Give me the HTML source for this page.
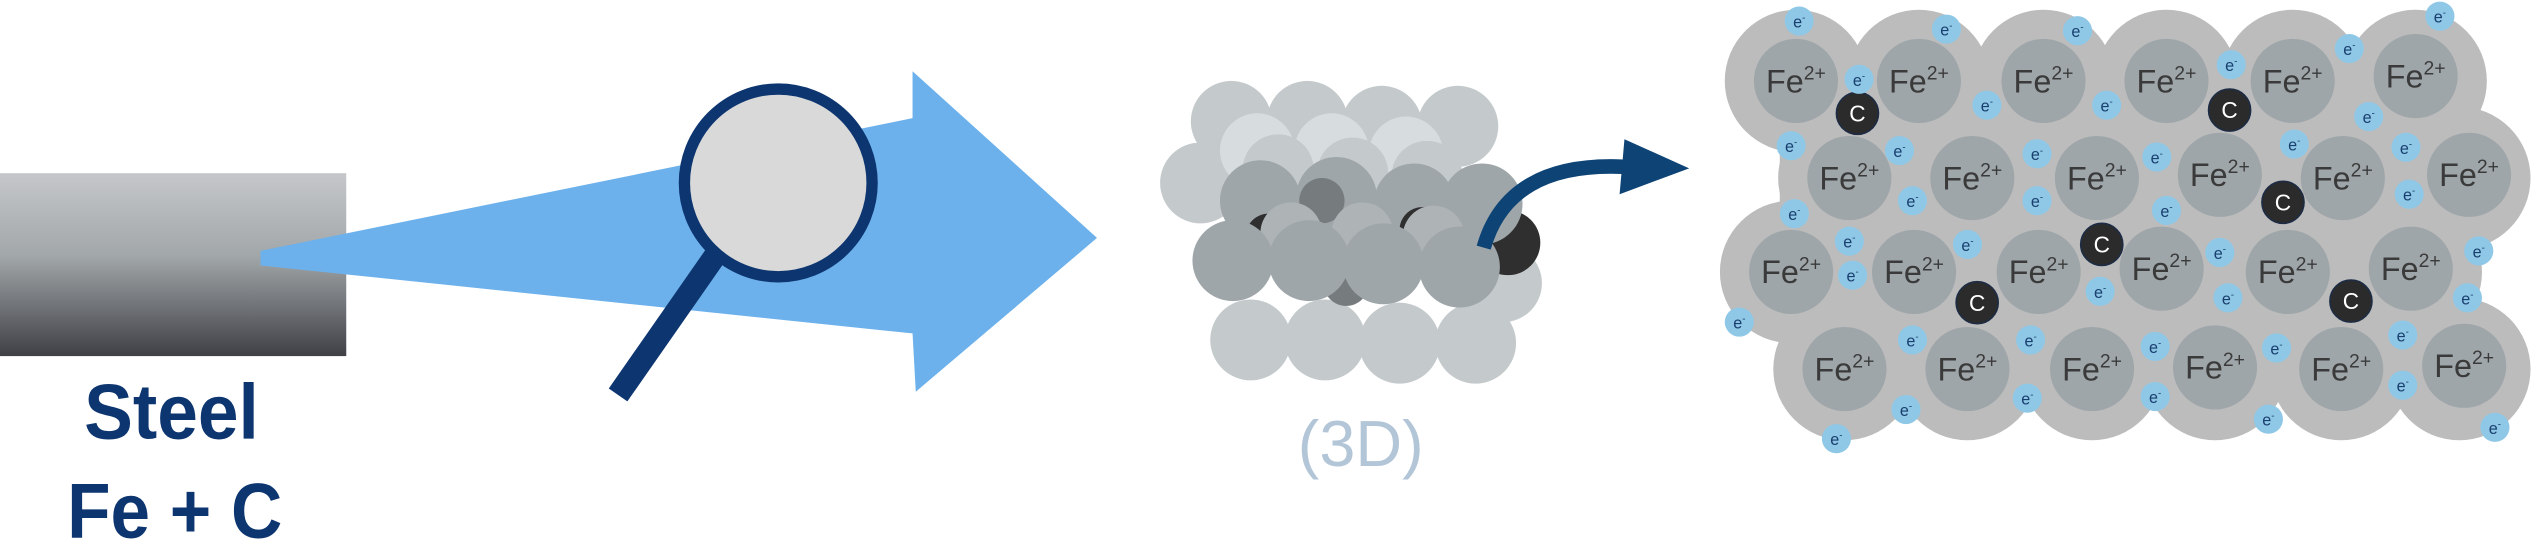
<!DOCTYPE html>
<html><head><meta charset="utf-8"><style>html,body{margin:0;padding:0;background:#fff;overflow:hidden}svg{display:block}</style></head>
<body>
<svg width="2537" height="539" viewBox="0 0 1568 333" preserveAspectRatio="none" xmlns="http://www.w3.org/2000/svg" font-family="Liberation Sans, sans-serif">
<defs>
<linearGradient id="g" x1="0" y1="0" x2="0" y2="1">
<stop offset="0" stop-color="#c5c7ca"/><stop offset="0.45" stop-color="#a2a7a9"/><stop offset="1" stop-color="#3f4046"/>
</linearGradient>
</defs>
<rect x="0" y="107" width="214" height="113" fill="url(#g)"/>
<text x="106" y="271" text-anchor="middle" font-size="48" font-weight="bold" fill="#0d3570" textLength="108" lengthAdjust="spacingAndGlyphs">Steel</text>
<text x="108" y="332" text-anchor="middle" font-size="48" font-weight="bold" fill="#0d3570" textLength="133" lengthAdjust="spacingAndGlyphs">Fe + C</text>
<polygon points="161,155 564,73 564,44 678,147 566,242 564,206 161,164" fill="#6cb1ec"/>
<line x1="442" y1="158" x2="382" y2="244" stroke="#0d3570" stroke-width="14"/>
<circle cx="481" cy="113" r="58" fill="#d9d9d9" stroke="#0d3570" stroke-width="7"/>
<!-- 3D cluster -->
<g fill="#c4c9cb">
<circle cx="773" cy="210" r="25"/><circle cx="819" cy="210" r="25"/><circle cx="865" cy="212" r="25"/><circle cx="912" cy="212" r="25"/><circle cx="929" cy="175" r="24"/>
<circle cx="761" cy="75" r="25"/><circle cx="808" cy="75" r="25"/><circle cx="854" cy="78" r="25"/><circle cx="901" cy="78" r="25"/><circle cx="742" cy="113" r="25"/>
</g>
<g fill="#d7dcdf"><circle cx="777" cy="93" r="23"/><circle cx="823" cy="93" r="23"/><circle cx="869" cy="95" r="23"/></g>
<g fill="#c4c9cb"><circle cx="790" cy="105" r="22"/><circle cx="836" cy="107" r="22"/><circle cx="882" cy="109" r="22"/></g>
<circle cx="932" cy="150" r="20" fill="#2f2f2f"/>
<g fill="#9fa6a9"><circle cx="779" cy="124" r="25"/><circle cx="826" cy="122" r="25"/><circle cx="874" cy="126" r="25"/><circle cx="916" cy="126" r="25"/></g>
<g fill="#767b7e"><circle cx="817" cy="124" r="14"/><circle cx="832" cy="175" r="14"/></g>
<circle cx="784" cy="146" r="14" fill="#2f2f2f"/><circle cx="879" cy="142" r="14" fill="#2f2f2f"/>
<g fill="#aeb3b5"><circle cx="798" cy="144" r="19"/><circle cx="842" cy="144" r="19"/><circle cx="886" cy="146" r="19"/></g>
<g fill="#9fa6a9"><circle cx="762" cy="161" r="25"/><circle cx="809" cy="161" r="25"/><circle cx="855" cy="163" r="25"/><circle cx="902" cy="165" r="25"/></g>
<text x="841" y="288" text-anchor="middle" font-size="40" fill="#b3c6d8">(3D)</text>
<path d="M917,153 Q932,100 1003,103" fill="none" stroke="#0d4375" stroke-width="9"/>
<polygon points="1004,86 1044,104 1001,120" fill="#0d4375"/>
<!-- lattice -->
<g fill="#bcbcbc">
<rect x="1100" y="45" width="420" height="185"/>
<circle cx="1110" cy="50" r="44"/><circle cx="1186" cy="50" r="44"/><circle cx="1263" cy="50" r="44"/><circle cx="1339" cy="50" r="44"/><circle cx="1417" cy="50" r="44"/><circle cx="1493" cy="50" r="44"/>
<circle cx="1143" cy="110" r="44"/><circle cx="1219" cy="110" r="44"/><circle cx="1296" cy="110" r="44"/><circle cx="1372" cy="110" r="44"/><circle cx="1448" cy="110" r="44"/><circle cx="1520" cy="110" r="44"/>
<circle cx="1107" cy="168" r="44"/><circle cx="1183" cy="168" r="44"/><circle cx="1260" cy="168" r="44"/><circle cx="1336" cy="168" r="44"/><circle cx="1414" cy="168" r="44"/><circle cx="1490" cy="168" r="44"/>
<circle cx="1140" cy="228" r="44"/><circle cx="1216" cy="228" r="44"/><circle cx="1293" cy="228" r="44"/><circle cx="1369" cy="228" r="44"/><circle cx="1447" cy="228" r="44"/><circle cx="1520" cy="228" r="44"/>
</g>
<g fill="#9fa6a9">
<circle cx="1110" cy="50" r="26"/><circle cx="1186" cy="50" r="26"/><circle cx="1263" cy="50" r="26"/><circle cx="1339" cy="50" r="26"/><circle cx="1417" cy="50" r="26"/><circle cx="1493" cy="47" r="26"/>
<circle cx="1143" cy="110" r="26"/><circle cx="1219" cy="110" r="26"/><circle cx="1296" cy="110" r="26"/><circle cx="1372" cy="108" r="26"/><circle cx="1448" cy="110" r="26"/><circle cx="1526" cy="108" r="26"/>
<circle cx="1107" cy="168" r="26"/><circle cx="1183" cy="168" r="26"/><circle cx="1260" cy="168" r="26"/><circle cx="1336" cy="166" r="26"/><circle cx="1414" cy="168" r="26"/><circle cx="1490" cy="166" r="26"/>
<circle cx="1140" cy="228" r="26"/><circle cx="1216" cy="228" r="26"/><circle cx="1293" cy="228" r="26"/><circle cx="1369" cy="227" r="26"/><circle cx="1447" cy="228" r="26"/><circle cx="1523" cy="226" r="26"/>
</g>
<g font-size="20" fill="#3a3a3a" text-anchor="middle">
<text x="1110" y="57">Fe<tspan font-size="12" dy="-8">2+</tspan></text><text x="1186" y="57">Fe<tspan font-size="12" dy="-8">2+</tspan></text><text x="1263" y="57">Fe<tspan font-size="12" dy="-8">2+</tspan></text><text x="1339" y="57">Fe<tspan font-size="12" dy="-8">2+</tspan></text><text x="1417" y="57">Fe<tspan font-size="12" dy="-8">2+</tspan></text><text x="1493" y="54">Fe<tspan font-size="12" dy="-8">2+</tspan></text>
<text x="1143" y="117">Fe<tspan font-size="12" dy="-8">2+</tspan></text><text x="1219" y="117">Fe<tspan font-size="12" dy="-8">2+</tspan></text><text x="1296" y="117">Fe<tspan font-size="12" dy="-8">2+</tspan></text><text x="1372" y="115">Fe<tspan font-size="12" dy="-8">2+</tspan></text><text x="1448" y="117">Fe<tspan font-size="12" dy="-8">2+</tspan></text><text x="1526" y="115">Fe<tspan font-size="12" dy="-8">2+</tspan></text>
<text x="1107" y="175">Fe<tspan font-size="12" dy="-8">2+</tspan></text><text x="1183" y="175">Fe<tspan font-size="12" dy="-8">2+</tspan></text><text x="1260" y="175">Fe<tspan font-size="12" dy="-8">2+</tspan></text><text x="1336" y="173">Fe<tspan font-size="12" dy="-8">2+</tspan></text><text x="1414" y="175">Fe<tspan font-size="12" dy="-8">2+</tspan></text><text x="1490" y="173">Fe<tspan font-size="12" dy="-8">2+</tspan></text>
<text x="1140" y="235">Fe<tspan font-size="12" dy="-8">2+</tspan></text><text x="1216" y="235">Fe<tspan font-size="12" dy="-8">2+</tspan></text><text x="1293" y="235">Fe<tspan font-size="12" dy="-8">2+</tspan></text><text x="1369" y="234">Fe<tspan font-size="12" dy="-8">2+</tspan></text><text x="1447" y="235">Fe<tspan font-size="12" dy="-8">2+</tspan></text><text x="1523" y="233">Fe<tspan font-size="12" dy="-8">2+</tspan></text>
</g>
<g fill="#2b2b2b" stroke="#1d2c44" stroke-width="1">
<circle cx="1148" cy="70" r="13"/><circle cx="1378" cy="68" r="13"/><circle cx="1411" cy="125" r="13"/><circle cx="1299" cy="151" r="13"/><circle cx="1222" cy="187" r="13"/><circle cx="1453" cy="186" r="13"/>
</g>
<g fill="#fff" font-size="14" text-anchor="middle">
<text x="1148" y="75">C</text><text x="1378" y="73">C</text><text x="1411" y="130">C</text><text x="1299" y="156">C</text><text x="1222" y="192">C</text><text x="1453" y="191">C</text>
</g>
<g fill="#8fc8e6">
<circle cx="1112" cy="13" r="9"/><circle cx="1203" cy="18" r="9"/><circle cx="1284" cy="19" r="9"/><circle cx="1508" cy="10" r="9"/><circle cx="1452" cy="30" r="9"/>
<circle cx="1149" cy="49" r="9"/><circle cx="1228" cy="65" r="9"/><circle cx="1302" cy="65" r="9"/><circle cx="1379" cy="40" r="9"/><circle cx="1464" cy="72" r="9"/>
<circle cx="1107" cy="90" r="9"/><circle cx="1174" cy="93" r="9"/><circle cx="1259" cy="95" r="9"/><circle cx="1333" cy="97" r="9"/><circle cx="1418" cy="89" r="9"/><circle cx="1487" cy="91" r="9"/>
<circle cx="1182" cy="124" r="9"/><circle cx="1259" cy="124" r="9"/><circle cx="1339" cy="130" r="9"/><circle cx="1489" cy="120" r="9"/><circle cx="1109" cy="132" r="9"/>
<circle cx="1143" cy="149" r="9"/><circle cx="1145" cy="170" r="9"/><circle cx="1216" cy="151" r="9"/><circle cx="1372" cy="156" r="9"/><circle cx="1532" cy="155" r="9"/>
<circle cx="1298" cy="180" r="9"/><circle cx="1377" cy="184" r="9"/><circle cx="1525" cy="184" r="9"/><circle cx="1075" cy="199" r="9"/>
<circle cx="1182" cy="210" r="9"/><circle cx="1255" cy="210" r="9"/><circle cx="1332" cy="214" r="9"/><circle cx="1407" cy="215" r="9"/><circle cx="1485" cy="207" r="9"/>
<circle cx="1485" cy="238" r="9"/><circle cx="1178" cy="253" r="9"/><circle cx="1253" cy="246" r="9"/><circle cx="1332" cy="245" r="9"/><circle cx="1402" cy="259" r="9"/><circle cx="1542" cy="264" r="9"/><circle cx="1135" cy="271" r="9"/>
</g>
<g fill="#1a3f6f" font-size="10" text-anchor="middle">
<text x="1112" y="17">e<tspan font-size="6" dy="-4">-</tspan></text><text x="1203" y="22">e<tspan font-size="6" dy="-4">-</tspan></text><text x="1284" y="23">e<tspan font-size="6" dy="-4">-</tspan></text><text x="1508" y="14">e<tspan font-size="6" dy="-4">-</tspan></text><text x="1452" y="34">e<tspan font-size="6" dy="-4">-</tspan></text>
<text x="1149" y="53">e<tspan font-size="6" dy="-4">-</tspan></text><text x="1228" y="69">e<tspan font-size="6" dy="-4">-</tspan></text><text x="1302" y="69">e<tspan font-size="6" dy="-4">-</tspan></text><text x="1379" y="44">e<tspan font-size="6" dy="-4">-</tspan></text><text x="1464" y="76">e<tspan font-size="6" dy="-4">-</tspan></text>
<text x="1107" y="94">e<tspan font-size="6" dy="-4">-</tspan></text><text x="1174" y="97">e<tspan font-size="6" dy="-4">-</tspan></text><text x="1259" y="99">e<tspan font-size="6" dy="-4">-</tspan></text><text x="1333" y="101">e<tspan font-size="6" dy="-4">-</tspan></text><text x="1418" y="93">e<tspan font-size="6" dy="-4">-</tspan></text><text x="1487" y="95">e<tspan font-size="6" dy="-4">-</tspan></text>
<text x="1182" y="128">e<tspan font-size="6" dy="-4">-</tspan></text><text x="1259" y="128">e<tspan font-size="6" dy="-4">-</tspan></text><text x="1339" y="134">e<tspan font-size="6" dy="-4">-</tspan></text><text x="1489" y="124">e<tspan font-size="6" dy="-4">-</tspan></text><text x="1109" y="136">e<tspan font-size="6" dy="-4">-</tspan></text>
<text x="1143" y="153">e<tspan font-size="6" dy="-4">-</tspan></text><text x="1145" y="174">e<tspan font-size="6" dy="-4">-</tspan></text><text x="1216" y="155">e<tspan font-size="6" dy="-4">-</tspan></text><text x="1372" y="160">e<tspan font-size="6" dy="-4">-</tspan></text><text x="1532" y="159">e<tspan font-size="6" dy="-4">-</tspan></text>
<text x="1298" y="184">e<tspan font-size="6" dy="-4">-</tspan></text><text x="1377" y="188">e<tspan font-size="6" dy="-4">-</tspan></text><text x="1525" y="188">e<tspan font-size="6" dy="-4">-</tspan></text><text x="1075" y="203">e<tspan font-size="6" dy="-4">-</tspan></text>
<text x="1182" y="214">e<tspan font-size="6" dy="-4">-</tspan></text><text x="1255" y="214">e<tspan font-size="6" dy="-4">-</tspan></text><text x="1332" y="218">e<tspan font-size="6" dy="-4">-</tspan></text><text x="1407" y="219">e<tspan font-size="6" dy="-4">-</tspan></text><text x="1485" y="211">e<tspan font-size="6" dy="-4">-</tspan></text>
<text x="1485" y="242">e<tspan font-size="6" dy="-4">-</tspan></text><text x="1178" y="257">e<tspan font-size="6" dy="-4">-</tspan></text><text x="1253" y="250">e<tspan font-size="6" dy="-4">-</tspan></text><text x="1332" y="249">e<tspan font-size="6" dy="-4">-</tspan></text><text x="1402" y="263">e<tspan font-size="6" dy="-4">-</tspan></text><text x="1542" y="268">e<tspan font-size="6" dy="-4">-</tspan></text><text x="1135" y="275">e<tspan font-size="6" dy="-4">-</tspan></text>
</g>
</svg>
</body></html>
